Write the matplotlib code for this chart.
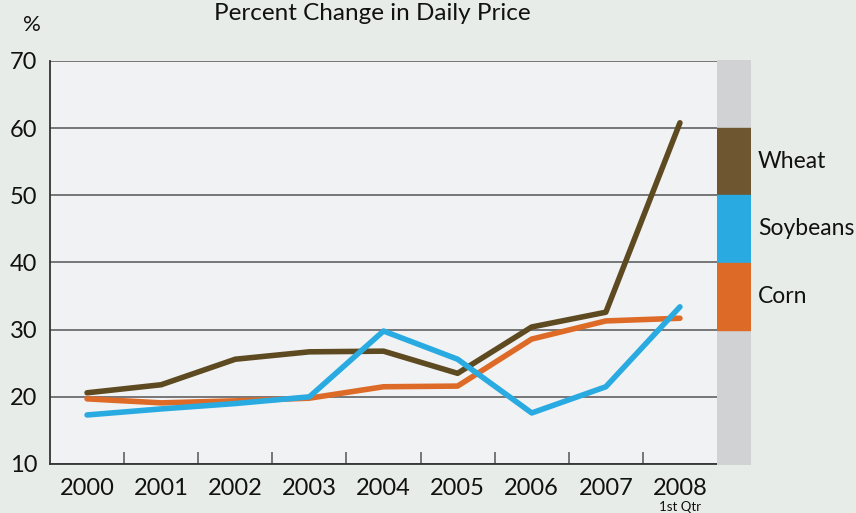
import matplotlib.pyplot as plt
from matplotlib.transforms import blended_transform_factory

plt.rcParams["font.family"] = ["Lato", "DejaVu Sans"]

years = ["2000", "2001", "2002", "2003", "2004", "2005", "2006", "2007", "2008"]
wheat = [20.6, 21.8, 25.6, 26.7, 26.8, 23.5, 30.4, 32.6, 60.8]
soybeans = [17.3, 18.2, 19.0, 20.0, 29.8, 25.6, 17.6, 21.5, 33.4]
corn = [19.7, 19.1, 19.4, 19.8, 21.5, 21.6, 28.6, 31.3, 31.7]

series_names = ["Wheat", "Soybeans", "Corn"]
legend_colors = ["#6e5630", "#29abe2", "#dd6b27"]
line_colors = ["#5e4a20", "#29abe2", "#dd6b27"]

fig = plt.figure(figsize=(8.56, 5.13), dpi=100)
fig.patch.set_facecolor("#e8ece8")

ax = fig.add_axes([50 / 856, 1 - 464 / 513, 667 / 856, 403 / 513])
ax.set_facecolor("#f1f2f4")

x = list(range(len(years)))
# draw order: wheat, corn, soybeans on top
ax.plot(x, wheat, color=line_colors[0], lw=4, solid_capstyle="round", zorder=3)
ax.plot(x, corn, color=line_colors[2], lw=4, solid_capstyle="round", zorder=4)
ax.plot(x, soybeans, color=line_colors[1], lw=4, solid_capstyle="round", zorder=5)

ax.set_xlim(-0.5, len(years) - 0.5)
ax.set_ylim(10, 70)
ax.set_yticks(range(10, 71, 10))
ax.grid(axis="y", color="#555555", lw=1.1)
ax.set_axisbelow(True)

ax.set_xticks(x)
ax.set_xticklabels(years)
ax.set_xticks([i + 0.5 for i in x[:-1]], minor=True)
ax.tick_params(axis="x", which="major", length=0, pad=10, labelsize=17, colors="#111111")
ax.tick_params(axis="x", which="minor", direction="in", length=9, width=1.1, color="#555555")
ax.tick_params(axis="y", length=0, pad=9, labelsize=17, colors="#111111")

for side in ["top", "right"]:
    ax.spines[side].set_visible(False)
for side in ["left", "bottom"]:
    ax.spines[side].set_color("#333333")
    ax.spines[side].set_linewidth(1.3)

trans = blended_transform_factory(ax.transData, ax.transAxes)
ax.text(8, -0.093, "1st Qtr", transform=trans, ha="center", va="top", fontsize=9.5,
        color="#111111", clip_on=False)

# side bar legend
bar = fig.add_axes([717 / 856, 1 - 465 / 513, 34 / 856, 405 / 513])
bar.set_xlim(0, 1)
bar.set_ylim(10, 70)
bar.axis("off")
bar.add_patch(plt.Rectangle((0, 10), 1, 60, color="#d1d2d4", zorder=0))
for i, (name, col) in enumerate(zip(series_names, legend_colors)):
    top = 60 - 10 * i
    bar.add_patch(plt.Rectangle((0, top - 10), 1, 10, color=col, zorder=1))
    bar.text(1.2, top - 5, name, ha="left", va="center", fontsize=16.5, color="#111111",
             clip_on=False)

fig.text(372 / 856, 1 - 14 / 513, "Percent Change in Daily Price", ha="center", va="center",
         fontsize=17.5, color="#111111")
fig.text(32 / 856, 1 - 25 / 513, "%", ha="center", va="center", fontsize=16, color="#111111")

fig.savefig("out.png", dpi=100, facecolor=fig.get_facecolor())
